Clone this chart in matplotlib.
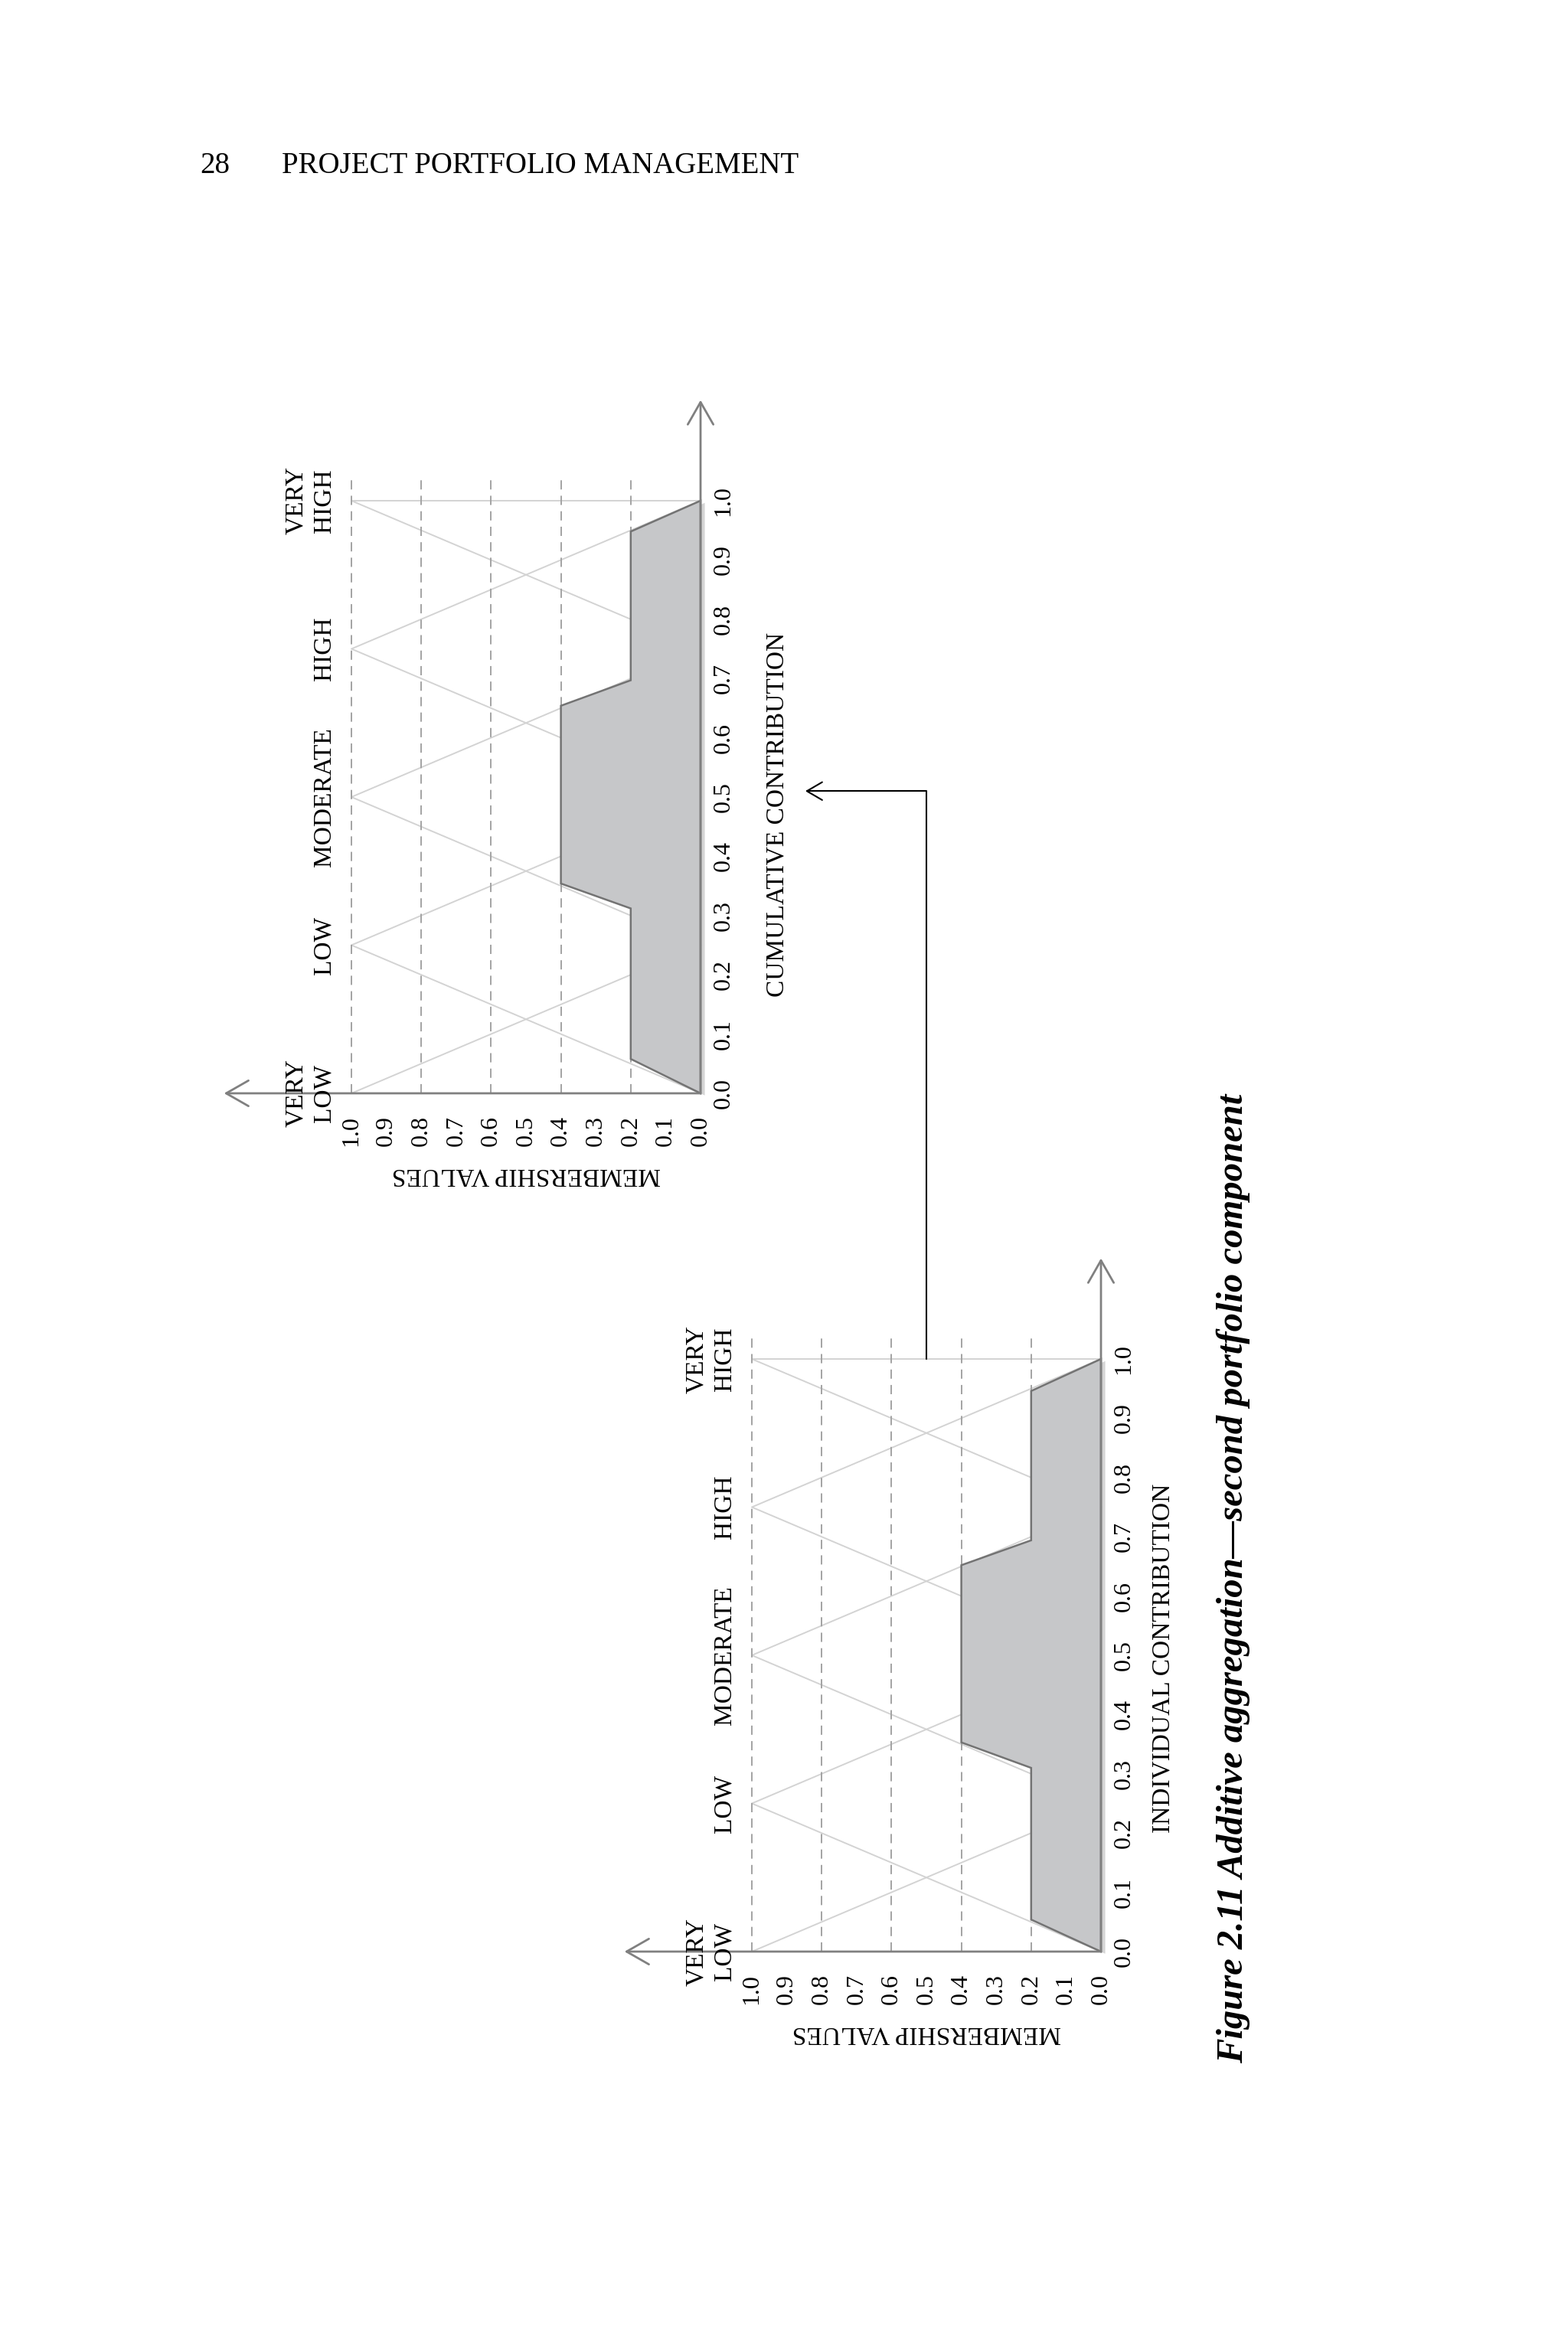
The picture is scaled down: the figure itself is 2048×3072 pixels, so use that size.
import matplotlib
matplotlib.use("Agg")
import matplotlib.pyplot as plt
import matplotlib.patheffects as pe
from matplotlib.patches import ConnectionPatch

plt.rcParams['font.family'] = ['Liberation Serif', 'DejaVu Serif']

# linguistic terms: triangular membership functions (left foot, peak, right foot)
terms = ['VERY\nLOW', 'LOW', 'MODERATE', 'HIGH', 'VERY\nHIGH']
term_left = [0.0, 0.0, 0.25, 0.5, 0.75]
term_peak = [0.0, 0.25, 0.5, 0.75, 1.0]
term_right = [0.25, 0.5, 0.75, 1.0, 1.0]

grid_levels = [0.2, 0.4, 0.6, 0.8, 1.0]
tick_values = [0.0, 0.1, 0.2, 0.3, 0.4, 0.5, 0.6, 0.7, 0.8, 0.9, 1.0]
tick_labels = ['0.0', '0.1', '0.2', '0.3', '0.4', '0.5', '0.6', '0.7', '0.8', '0.9', '1.0']

# aggregated shapes (contribution, membership)
individual_x = [0.0, 0.054, 0.31, 0.353, 0.652, 0.694, 0.946, 1.0]
individual_mu = [0.0, 0.2, 0.2, 0.4, 0.4, 0.2, 0.2, 0.0]
cumulative_x = [0.0, 0.058, 0.312, 0.354, 0.654, 0.697, 0.948, 1.0]
cumulative_mu = [0.0, 0.2, 0.2, 0.4, 0.4, 0.2, 0.2, 0.0]

W, H = 2048, 3072
SX, SY = 456, 774          # pixels per unit (membership, contribution)
M_LIM = (1.45, -0.4)
C_LIM = (-0.22, 1.22)

fig = plt.figure(figsize=(W / 100, H / 100), dpi=100)
fig.patch.set_facecolor('white')

AXIS_C = '#808080'
LIGHT = '#d3d3d3'
DASH = '#a3a3a3'


def make_axes(ox, oy):
    left = ox - M_LIM[0] * SX
    right = ox - M_LIM[1] * SX
    top = oy - C_LIM[1] * SY
    bottom = oy - C_LIM[0] * SY
    ax = fig.add_axes([left / W, 1 - bottom / H, (right - left) / W, (bottom - top) / H])
    ax.set_xlim(*M_LIM)
    ax.set_ylim(*C_LIM)
    ax.axis('off')
    return ax


def draw_chart(ax, xs, mus, xlabel, xlabel_m, xlabel_c):
    for l, p, r in zip(term_left, term_peak, term_right):
        ax.plot([0, 1, 0], [l, p, r], color=LIGHT, lw=1.4, zorder=1)
    for g in grid_levels:
        ax.plot([g, g], [0, 1.037], color=DASH, lw=1.4,
                linestyle=(0, (6.2, 4.2)), zorder=1.5)
    ax.fill(mus, xs, facecolor='#c6c7c9', edgecolor='#737373', lw=1.8, zorder=2,
            path_effects=[pe.SimplePatchShadow(offset=(4, -2), shadow_rgbFace='#888888', alpha=0.35),
                          pe.Normal()])
    arrow = dict(arrowstyle='->,head_length=0.7,head_width=0.4', color=AXIS_C,
                 lw=2.0, mutation_scale=30, shrinkA=0, shrinkB=0)
    ax.annotate('', xy=(0, 1.17), xytext=(0, 0), arrowprops=arrow, zorder=3)
    ax.annotate('', xy=(1.365, 0), xytext=(0, 0), arrowprops=arrow, zorder=3)

    for v, t in zip(tick_values, tick_labels):
        ax.text(-0.066, v, t, rotation=90, ha='center', va='center', fontsize=23)
        ax.text(v, -0.063, t, rotation=90, ha='center', va='center', fontsize=23)
    ax.text(0.5, -0.138, 'MEMBERSHIP VALUES', rotation=180, ha='center', va='center', fontsize=24)
    for term, p in zip(terms, term_peak):
        ax.text(1.044, p, term, rotation=90, ha='right', va='center',
                multialignment='center', linespacing=1.25, fontsize=24)
    ax.text(xlabel_m, xlabel_c, xlabel, rotation=90, ha='center', va='center', fontsize=24)


ax_top = make_axes(915, 1428)
ax_bot = make_axes(1438, 2549)

draw_chart(ax_top, cumulative_x, cumulative_mu, 'CUMULATIVE CONTRIBUTION', -0.22, 0.47)
draw_chart(ax_bot, individual_x, individual_mu, 'INDIVIDUAL CONTRIBUTION', -0.178, 0.495)

# connector from individual chart to cumulative chart
con = ConnectionPatch(xyA=(0.5, 1.0), coordsA=ax_bot.transData,
                      xyB=(-0.30, 0.51), coordsB=ax_top.transData,
                      connectionstyle='angle,angleA=90,angleB=0,rad=0',
                      arrowstyle='->,head_length=0.72,head_width=0.42',
                      mutation_scale=20, color='black', lw=1.5)
fig.add_artist(con)

fig.text(261 / W, 1 - 216 / H, '28', ha='left', va='center', fontsize=28)
fig.text(368 / W, 1 - 216 / H, 'PROJECT PORTFOLIO MANAGEMENT', ha='left', va='center', fontsize=28)

fig.text(1611 / W, 1 - 2062 / H, 'Figure 2.11 Additive aggregation\u2014second portfolio component',
         rotation=90, ha='center', va='center', fontsize=35, fontweight='bold', fontstyle='italic')

fig.savefig('out.png', dpi=100, facecolor='white')
